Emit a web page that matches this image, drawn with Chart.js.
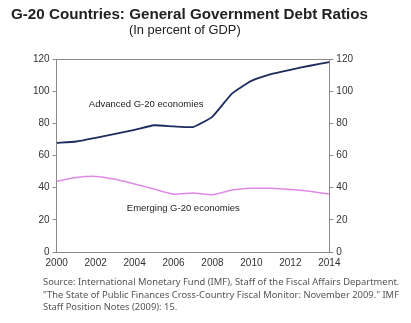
<!DOCTYPE html>
<html>
<head>
    <title>G-20 Countries: General Government Debt Ratios</title>
    <script src="https://cdn.jsdelivr.net/npm/chart.js"></script>
    <style>
        html, body {
            margin: 0;
            padding: 0;
            background: #fff;
        }
        .wrap {
            position: relative;
            width: 411px;
            height: 323px;
            overflow: hidden;
        }
        #debtChart {
            position: absolute;
            left: 0;
            top: 0;
        }
        .title {
            position: absolute;
            left: 11px;
            top: 5px;
            font: bold 15.2px "Liberation Sans", Arial, sans-serif;
            color: #222;
            white-space: nowrap;
        }
        .subtitle {
            position: absolute;
            left: 129px;
            top: 22px;
            font: 12.9px "Liberation Sans", Arial, sans-serif;
            color: #222;
            white-space: nowrap;
        }
        .source {
            position: absolute;
            left: 43px;
            top: 276px;
            font: 9.4px "Noto Sans", sans-serif;
            line-height: 12.7px;
            color: #555;
            white-space: nowrap;
        }
    </style>
</head>
<body>
<div class="wrap">
    <canvas id="debtChart" width="411" height="323"></canvas>
    <div class="title">G-20 Countries: General Government Debt Ratios</div>
    <div class="subtitle">(In percent of GDP)</div>
    <div class="source">
        Source: International Monetary Fund (IMF), Staff of the Fiscal Affairs Department.<br>
        "The State of Public Finances Cross-Country Fiscal Monitor: November 2009." IMF<br>
        Staff Position Notes (2009): 15.
    </div>
</div>

<script>
    // 数据
    const years = [2000, 2001, 2002, 2003, 2004, 2005, 2006, 2007, 2008, 2009, 2010, 2011, 2012, 2013, 2014];
    const advanced = [67.9, 68.7, 71, 73.5, 76, 78.8, 78.1, 77.7, 84.2, 98.5, 106.4, 110.6, 113.3, 115.8, 118];
    const emerging = [44, 46.3, 47, 45.2, 42.3, 39.2, 36, 36.7, 35.6, 38.5, 39.6, 39.6, 38.9, 37.7, 36];
    const yTicks = [0, 20, 40, 60, 80, 100, 120];

    const advancedColor = '#1d2b5e';
    const emergingColor = '#df8ae6';
    const axisColor = '#8a8a8a';

    // 曲线旁的文字标注
    const seriesLabels = [
        { text: 'Advanced G-20 economies', x: 2001.65, y: 91.9 },
        { text: 'Emerging G-20 economies', x: 2003.6, y: 26.9 }
    ];

    const toPoints = (vals) => vals.map((v, i) => ({ x: years[i], y: v }));

    const framePlugin = {
        id: 'frame',
        afterDraw(chart) {
            const { ctx, chartArea, scales } = chart;
            ctx.save();
            ctx.strokeStyle = axisColor;
            ctx.lineWidth = 1;
            ctx.beginPath();
            ctx.moveTo(chartArea.left, chartArea.top + 0.5);
            ctx.lineTo(chartArea.right, chartArea.top + 0.5);
            ctx.stroke();
            ctx.font = '9.5px "Liberation Sans", Arial, sans-serif';
            ctx.fillStyle = '#222';
            ctx.textBaseline = 'middle';
            seriesLabels.forEach(l => {
                ctx.fillText(l.text, scales.x.getPixelForValue(l.x), scales.y.getPixelForValue(l.y));
            });
            ctx.restore();
        }
    };

    const tickFont = { family: '"Liberation Sans", Arial, sans-serif', size: 10 };

    new Chart(document.getElementById('debtChart'), {
        type: 'line',
        data: {
            datasets: [
                {
                    label: 'Advanced G-20 economies',
                    data: toPoints(advanced),
                    borderColor: advancedColor,
                    borderWidth: 1.8,
                    pointRadius: 0,
                    tension: 0.15,
                    yAxisID: 'y'
                },
                {
                    label: 'Emerging G-20 economies',
                    data: toPoints(emerging),
                    borderColor: emergingColor,
                    borderWidth: 1.5,
                    pointRadius: 0,
                    tension: 0.15,
                    yAxisID: 'y'
                }
            ]
        },
        options: {
            responsive: false,
            animation: false,
            layout: {
                padding: { left: 30, right: 55, top: 59, bottom: 49 }
            },
            plugins: {
                legend: { display: false },
                tooltip: { enabled: false }
            },
            scales: {
                x: {
                    type: 'linear',
                    min: 2000,
                    max: 2014,
                    afterBuildTicks: (axis) => {
                        axis.ticks = years.filter(y => y % 2 === 0).map(v => ({ value: v }));
                    },
                    ticks: {
                        color: '#333',
                        font: tickFont,
                        maxRotation: 0,
                        padding: 5,
                        callback: (v) => String(v)
                    },
                    grid: { drawOnChartArea: false, drawTicks: false },
                    border: { color: axisColor, width: 1 }
                },
                y: {
                    position: 'left',
                    min: 0,
                    max: 120,
                    afterBuildTicks: (axis) => {
                        axis.ticks = yTicks.map(v => ({ value: v }));
                    },
                    ticks: { color: '#333', font: tickFont, padding: 3 },
                    grid: { drawOnChartArea: false, tickLength: 4, color: axisColor },
                    border: { color: axisColor, width: 1 }
                },
                y1: {
                    position: 'right',
                    min: 0,
                    max: 120,
                    afterBuildTicks: (axis) => {
                        axis.ticks = yTicks.map(v => ({ value: v }));
                    },
                    ticks: { color: '#333', font: tickFont, padding: 3 },
                    grid: { drawOnChartArea: false, tickLength: 4, color: axisColor },
                    border: { color: axisColor, width: 1 }
                }
            }
        },
        plugins: [framePlugin]
    });
</script>
</body>
</html>
